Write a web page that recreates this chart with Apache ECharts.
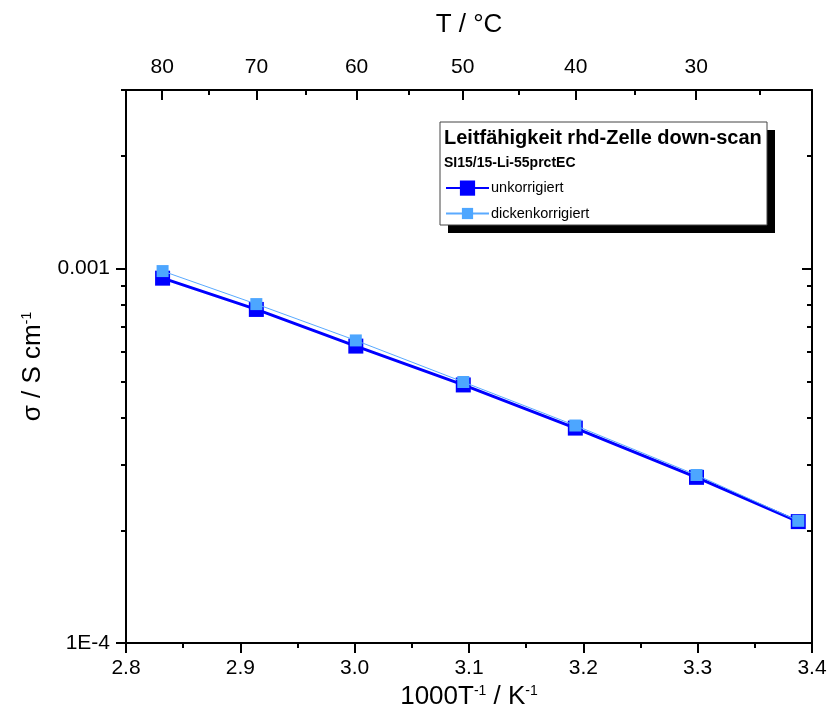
<!DOCTYPE html>
<html>
<head>
<meta charset="utf-8">
<script src="https://cdn.jsdelivr.net/npm/echarts@6/dist/echarts.min.js"></script>
<style>
  html, body { margin: 0; padding: 0; background: #fff; }
  #chart { width: 831px; height: 728px; }
</style>
</head>
<body>
<div id="chart"></div>
<script>
// ---- data ----
const invT = [2.832, 2.914, 3.001, 3.095, 3.193, 3.299, 3.388];          // 1000/T in 1/K
const sigmaRaw = [9.43e-4, 7.78e-4, 6.21e-4, 4.89e-4, 3.75e-4, 2.77e-4, 2.11e-4];   // unkorrigiert
const sigmaCorr = [9.85e-4, 8.04e-4, 6.43e-4, 4.98e-4, 3.81e-4, 2.81e-4, 2.12e-4];  // dickenkorrigiert
const seriesNames = ['unkorrigiert', 'dickenkorrigiert'];
const topMajorT = [80, 70, 60, 50, 40, 30];   // °C
const topMinorT = [75, 65, 55, 45, 35, 25];   // °C
const yMajor = [1e-4, 1e-3];
const yMajorLabels = ['1E-4', '0.001'];
const yMinor = [2e-4, 3e-4, 4e-4, 5e-4, 6e-4, 7e-4, 8e-4, 9e-4, 2e-3, 3e-3];
const xMin = 2.8, xMax = 3.4, xStep = 0.1;
const yMin = 1e-4, yMax = 3e-3;

const FONT = 'Liberation Sans, Arial, sans-serif';
const toInvT = T => 1000 / (T + 273.15);
const lg = v => Math.log10(v);

const chart = echarts.init(document.getElementById('chart'), null, { renderer: 'canvas' });

const axisLineStyle = { show: true, lineStyle: { color: '#000', width: 2 } };
const lgMin = lg(yMin), lgMax = lg(yMax);
const supRich = { sup: { fontSize: 14, fontFamily: FONT, color: '#000', verticalAlign: 'top' } };

const option = {
  animation: false,
  backgroundColor: '#fff',
  grid: { left: 126, right: 19, top: 90, bottom: 85, containLabel: false, outerBoundsMode: 'none' },
  xAxis: [
    {
      type: 'value', position: 'bottom', min: xMin, max: xMax, interval: xStep,
      axisLine: axisLineStyle,
      axisTick: { show: true, inside: false, length: 10, lineStyle: { color: '#000', width: 2 } },
      minorTick: { show: true, splitNumber: 2, length: 5, lineStyle: { color: '#000', width: 2 } },
      splitLine: { show: false },
      axisLabel: { color: '#000', fontSize: 21, fontFamily: FONT, margin: 15, formatter: v => v.toFixed(1) },
      name: '1000T{sup|-1} / K{sup|-1}',
      nameLocation: 'middle', nameGap: 36,
      nameTextStyle: { color: '#000', fontSize: 26, fontFamily: FONT, rich: supRich }
    },
    {
      type: 'value', position: 'top', min: xMin, max: xMax,
      axisLine: axisLineStyle,
      axisTick: { show: true, inside: true, length: 10, customValues: topMajorT.map(toInvT), lineStyle: { color: '#000', width: 2 } },
      axisLabel: { show: true, color: '#000', fontSize: 21, fontFamily: FONT, margin: 12,
        customValues: topMajorT.map(toInvT), formatter: v => String(Math.round(1000 / v - 273.15)) },
      splitLine: { show: false },
      name: 'T / °C', nameLocation: 'middle', nameGap: 52,
      nameTextStyle: { color: '#000', fontSize: 26, fontFamily: FONT }
    },
    {
      type: 'value', position: 'top', min: xMin, max: xMax,
      axisLine: { show: false },
      axisTick: { show: true, inside: true, length: 5, customValues: topMinorT.map(toInvT), lineStyle: { color: '#000', width: 2 } },
      axisLabel: { show: false },
      splitLine: { show: false }
    }
  ],
  yAxis: [
    {
      type: 'log', logBase: 10, min: yMin, max: yMax, position: 'left',
      axisLine: { show: false }, axisTick: { show: false }, axisLabel: { show: false }, splitLine: { show: false }
    },
    {
      type: 'value', position: 'left', min: lgMin, max: lgMax,
      axisLine: axisLineStyle,
      axisTick: { show: true, inside: false, length: 10, customValues: yMajor.map(lg), lineStyle: { color: '#000', width: 2 } },
      axisLabel: { show: true, color: '#000', fontSize: 21, fontFamily: FONT, margin: 16,
        customValues: yMajor.map(lg),
        formatter: v => { let best = 0; yMajor.forEach((m, i) => { if (Math.abs(lg(m) - v) < Math.abs(lg(yMajor[best]) - v)) best = i; }); return yMajorLabels[best]; } },
      splitLine: { show: false },
      name: 'σ / S cm{sup|-1}', nameLocation: 'middle', nameGap: 80, nameRotate: 90,
      nameTextStyle: { color: '#000', fontSize: 26, fontFamily: FONT, rich: supRich }
    },
    {
      type: 'value', position: 'left', min: lgMin, max: lgMax,
      axisLine: { show: false },
      axisTick: { show: true, inside: false, length: 5, customValues: yMinor.map(lg), lineStyle: { color: '#000', width: 2 } },
      axisLabel: { show: false }, splitLine: { show: false }
    },
    {
      type: 'value', position: 'right', min: lgMin, max: lgMax,
      axisLine: axisLineStyle,
      axisTick: { show: true, inside: true, length: 10, customValues: yMajor.map(lg), lineStyle: { color: '#000', width: 2 } },
      axisLabel: { show: false }, splitLine: { show: false }
    },
    {
      type: 'value', position: 'right', min: lgMin, max: lgMax,
      axisLine: { show: false },
      axisTick: { show: true, inside: true, length: 5, customValues: yMinor.map(lg), lineStyle: { color: '#000', width: 2 } },
      axisLabel: { show: false }, splitLine: { show: false }
    }
  ],
  graphic: [
    { type: 'rect', z: 1, shape: { x: 448, y: 130, width: 327, height: 103 }, style: { fill: '#000' } },
    { type: 'rect', z: 2, shape: { x: 440, y: 122, width: 327, height: 103 }, style: { fill: '#fff', stroke: '#444', lineWidth: 1 } },
    { type: 'text', z: 3, x: 444, y: 138, style: { text: 'Leitfähigkeit rhd-Zelle down-scan', fill: '#000',
        font: 'bold 20px ' + FONT, verticalAlign: 'middle' } },
    { type: 'text', z: 3, x: 444, y: 163, style: { text: 'SI15/15-Li-55prctEC', fill: '#000',
        font: 'bold 14px ' + FONT, verticalAlign: 'middle' } }
  ],
  legend: [
    { data: [seriesNames[0]], left: 445, top: 180.5, padding: 0, itemWidth: 43, itemHeight: 19, itemGap: 0, z: 10,
      textStyle: { color: '#000', fontSize: 14.5, fontFamily: FONT, padding: [0, 0, 0, -3] } },
    { data: [seriesNames[1]], left: 445, top: 206, padding: 0, itemWidth: 43, itemHeight: 14, itemGap: 0, z: 10,
      textStyle: { color: '#000', fontSize: 14.5, fontFamily: FONT, padding: [0, 0, 0, -3] } }
  ],
  series: [
    {
      name: seriesNames[0], type: 'line', xAxisIndex: 0, yAxisIndex: 0,
      data: invT.map((x, i) => [x, sigmaRaw[i]]),
      symbol: 'rect', symbolSize: 15,
      lineStyle: { color: '#0000ff', width: 3 },
      itemStyle: { color: '#0000ff' },
      z: 3
    },
    {
      name: seriesNames[1], type: 'line', xAxisIndex: 0, yAxisIndex: 0,
      data: invT.map((x, i) => [x, sigmaCorr[i]]),
      symbol: 'rect', symbolSize: 12,
      lineStyle: { color: '#5aaaff', width: 1 },
      itemStyle: { color: '#4da6ff' },
      z: 4
    }
  ]
};
chart.setOption(option);
</script>
</body>
</html>
